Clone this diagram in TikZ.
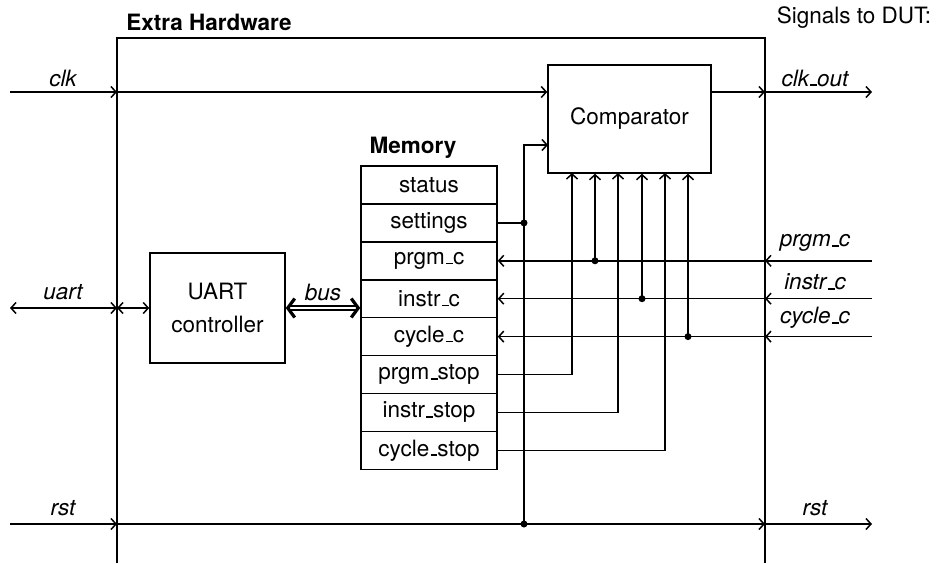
\documentclass[tikz,border=0pt]{standalone}
\usepackage{fontspec}
\setmainfont{TeX Gyre Heros}
\usetikzlibrary{arrows.meta}
\newcommand\usc{\leavevmode\kern.06em\vbox{\hrule width.3em height .075em}}
\begin{document}
\begin{tikzpicture}[x=1pt,y=-1pt,
  >={Straight Barb[length=5pt,width=11pt]},
  every node/.style={font=\fontsize{22.5}{26}\selectfont},
  wire/.style={line width=1.5pt},
  arr/.style={wire,->},
  barr/.style={wire,<->},
  lbl/.style={font=\fontsize{22.5}{26}\selectfont\itshape},
  ttl/.style={font=\fontsize{22.5}{26}\selectfont\bfseries},
  blk/.style={draw,line width=1.5pt,inner sep=0pt},
  memrow/.style={draw,line width=1.5pt,inner sep=0pt,minimum width=136pt,minimum height=37.9pt},
  jdot/.style={circle,fill,inner sep=0pt,minimum size=7pt},
  busline/.style={line width=1.4pt,double,double distance=2.4pt,
     {Straight Barb[length=7pt,width=19pt,line width=3.2pt]}-{Straight Barb[length=7pt,width=19pt,line width=3.2pt]}}
]
\useasboundingbox (0,0) rectangle (937,563);

% outer box (open at bottom)
\draw[wire] (117,563) -- (117,38) -- (765,38) -- (765,563);
\node[ttl] (eh) at (209,22) {Extra Hardware};
\node (sig) at (854,18) {Signals to DUT:};

% blocks
\node[blk,minimum width=163pt,minimum height=108pt] (cmp) at (629.5,119) {Comparator};
\node[blk,minimum width=135pt,minimum height=110pt,align=center,
      font=\fontsize{22.5}{33}\selectfont] (uart) at (217.5,308) {UART\\controller};

\node[ttl] (memt) at (413,148) {Memory};
\node[memrow] (m1) at (429,185) {status};
\node[memrow] (m2) at (429,222.9) {settings};
\node[memrow] (m3) at (429,260.8) {prgm\usc c};
\node[memrow] (m4) at (429,298.7) {instr\usc c};
\node[memrow] (m5) at (429,336.6) {cycle\usc c};
\node[memrow] (m6) at (429,374.5) {prgm\usc stop};
\node[memrow] (m7) at (429,412.4) {instr\usc stop};
\node[memrow] (m8) at (429,450.3) {cycle\usc stop};

% clk
\coordinate (clkin) at (10,92);
\coordinate (clkb) at (117,92);
\coordinate (clkob) at (765,92);
\coordinate (clkout) at (872,92);
\node[lbl] (lclk) at (63,78) {clk};
\node[lbl] (lclko) at (815,78) {clk\usc out};
\draw[arr] (clkin) -- (clkb);
\draw[arr] (clkb) -- (clkb -| cmp.west);
\draw[arr] (cmp.east |- clkb) -- (clkob);
\draw[arr] (clkob) -- (clkout);

% rst
\coordinate (rstin) at (10,524);
\coordinate (rstb) at (117,524);
\coordinate (rstob) at (765,524);
\coordinate (rstout) at (872,524);
\coordinate (rj) at (524,524);
\coordinate (sj) at (524,222.9);
\coordinate (cin2) at (548,145);
\node[lbl] (lrst) at (63,508) {rst};
\node[lbl] (lrsto) at (815,508) {rst};
\draw[arr] (rstin) -- (rstb);
\draw[arr] (rstb) -- (rstob);
\draw[arr] (rstob) -- (rstout);
\draw[wire] (m2.east) -- (sj);
\draw[arr] (rj) |- (cin2);
\node[jdot] (dr) at (rj) {};
\node[jdot] (ds) at (sj) {};

% uart
\coordinate (uin) at (10,308);
\coordinate (ub) at (117,308);
\node[lbl] (luart) at (63,292) {uart};
\draw[barr] (uin) -- (ub);
\draw[barr] (ub) -- (uart.west);
\node[lbl] (lbus) at (323,292) {bus};
\draw[busline] (uart.east) -- (uart.east -| m4.west);

% counter inputs
\coordinate (pin) at (872,260.8);
\coordinate (pb) at (765,260.8);
\coordinate (pj) at (595,260.8);
\coordinate (iin) at (872,298.7);
\coordinate (ib) at (765,298.7);
\coordinate (ij) at (642,298.7);
\coordinate (cin) at (872,336.6);
\coordinate (cb) at (765,336.6);
\coordinate (cj) at (688,336.6);
\node[lbl] (lp) at (815,243) {prgm\usc c};
\node[lbl] (li) at (815,282) {instr\usc c};
\node[lbl] (lc) at (815,318) {cycle\usc c};
\draw[arr] (pin) -- (pb);
\draw[arr] (pb) -- (m3.east);
\draw[arr] (iin) -- (ib);
\draw[arr] (ib) -- (m4.east);
\draw[arr] (cin) -- (cb);
\draw[arr] (cb) -- (m5.east);
\draw[arr] (pj) -- (pj |- cmp.south);
\draw[arr] (ij) -- (ij |- cmp.south);
\draw[arr] (cj) -- (cj |- cmp.south);
\node[jdot] (dp) at (pj) {};
\node[jdot] (di) at (ij) {};
\node[jdot] (dc) at (cj) {};

% stop lines
\coordinate (ps) at (572,173);
\coordinate (is) at (618,173);
\coordinate (cs) at (665,173);
\draw[arr] (m6.east) -| (ps);
\draw[arr] (m7.east) -| (is);
\draw[arr] (m8.east) -| (cs);
\end{tikzpicture}
\end{document}
